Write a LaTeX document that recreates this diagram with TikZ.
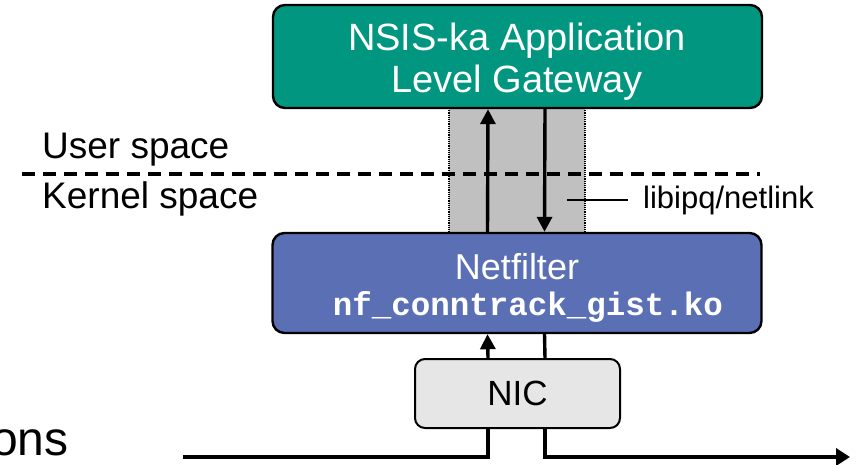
\documentclass[tikz,border=0pt]{standalone}
\usepackage{fontspec}
\setmainfont{Liberation Sans}
\setmonofont{Liberation Mono}
\usetikzlibrary{arrows.meta}

\definecolor{gwgreen}{RGB}{0,150,128}
\definecolor{nfblue}{RGB}{91,111,181}
\definecolor{bandgray}{RGB}{192,192,192}
\definecolor{nicgray}{RGB}{230,230,230}

\tikzset{
  layerbox/.style={draw=black, line width=2.4pt, rounded corners=12pt, inner sep=0pt},
  boxtext/.style={inner sep=0pt, text=white, anchor=base},
  flow/.style={line width=3.4pt, draw=black},
  flowtip/.style={-{Triangle[width=15pt,length=15pt]}},
  label/.style={inner sep=0pt, anchor=base west},
}

\begin{document}
\begin{tikzpicture}[x=1pt,y=-1pt]
  \path[use as bounding box] (0,0) rectangle (856,464);
  \clip (0,0) rectangle (856,464);

  % communication band between user and kernel space
  \fill[bandgray] (449,108) rectangle (585,233);
  \draw[densely dotted, line width=1.2pt, black] (449,108) -- (449,233);
  \draw[densely dotted, line width=1.2pt, black] (585,108) -- (585,233);

  % user/kernel boundary
  \draw[line width=3.2pt, dash pattern=on 13pt off 8pt] (22,174) -- (760,174);
  \node[label, font=\fontsize{37}{42}\selectfont] (user) at (42,158) {User space};
  \node[label, font=\fontsize{37}{42}\selectfont] (kernel) at (42,208) {Kernel space};

  % components
  \node[layerbox, fill=gwgreen, minimum width=489pt, minimum height=103pt] (gw) at (517.5,56.5) {};
  \node[boxtext, font=\fontsize{38}{42}\selectfont] (gwtitle) at (517,50) {NSIS-ka Application};
  \node[boxtext, font=\fontsize{38}{42}\selectfont] (gwsub) at (517,92) {Level Gateway};

  \node[layerbox, fill=nfblue, minimum width=489pt, minimum height=100pt] (nf) at (517,283) {};
  \node[boxtext, font=\fontsize{36}{40}\selectfont] (nftitle) at (517,279) {Netfilter};
  \node[boxtext, font=\fontsize{32.5}{36}\selectfont\ttfamily\bfseries] (nfmod) at (528,315) {nf\_conntrack\_gist.ko};

  \node[draw=black, line width=2pt, rounded corners=10pt, fill=nicgray,
        minimum width=205pt, minimum height=69pt, inner sep=0pt,
        font=\fontsize{35}{40}\selectfont] (nic) at (517.5,393.5) {NIC};

  % netlink messages
  \draw[flow, flowtip] ([xshift=-29.5pt]nf.north) -- ([xshift=-29.5pt]gw.south);
  \draw[flow, flowtip] ([xshift=27.5pt]gw.south) -- ([xshift=27.5pt]nf.north);
  \node[label, font=\fontsize{31}{36}\selectfont, anchor=west] (libipq) at (643,200) {libipq/netlink};
  \draw[line width=1.3pt] (567,200) -- (libipq.west -| 628,0);

  % packet path through the NIC
  \draw[flow, flowtip] ([xshift=-29.5pt]nic.north) -- ([xshift=-29.5pt]nf.south);
  \draw[flow] ([xshift=27.5pt]nf.south) -- ([xshift=27.5pt]nic.north);

  \coordinate (in) at (183,457);
  \coordinate (out) at (850,457);
  \draw[flow] (in) -| ([xshift=-29.5pt]nic.south);
  \draw[flow, -{Triangle[width=17pt,length=14pt]}] ([xshift=27.5pt]nic.south) |- (out);

  \node[label, font=\fontsize{48}{52}\selectfont] (flows) at (-9,455) {ons};
\end{tikzpicture}
\end{document}
